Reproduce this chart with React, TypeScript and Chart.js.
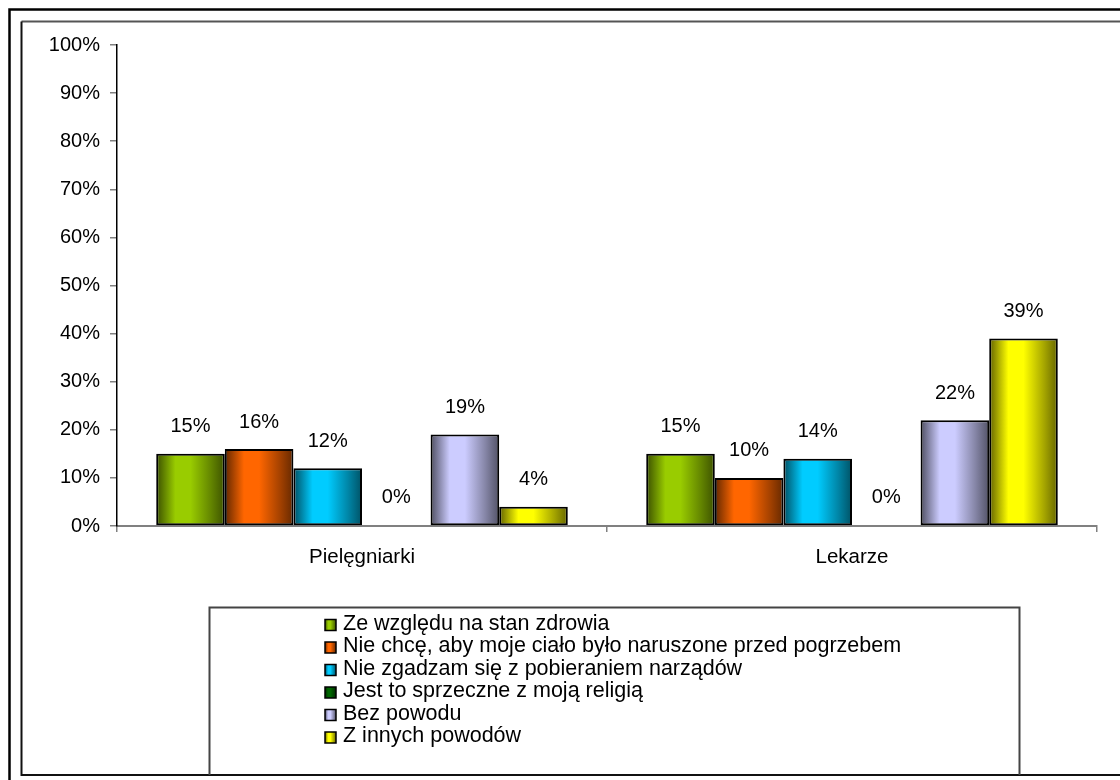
import React, { useEffect, useRef } from "react";
import { Chart, registerables } from "chart.js";

Chart.register(...registerables);

const categories = ["Pielęgniarki", "Lekarze"];
const seriesNames = [
  "Ze względu na stan zdrowia",
  "Nie chcę, aby moje ciało było naruszone przed pogrzebem",
  "Nie zgadzam się z pobieraniem narządów",
  "Jest to sprzeczne z moją religią",
  "Bez powodu",
  "Z innych powodów",
];
const seriesValues = [
  [15, 15],
  [16, 10],
  [12, 14],
  [0, 0],
  [19, 22],
  [4, 39],
];
const seriesColors = ["#99CC00", "#FF6600", "#00CCFF", "#006600", "#CCCCFF", "#FFFF00"];
const yTickValues = [0, 10, 20, 30, 40, 50, 60, 70, 80, 90, 100];

const FONT = '"Liberation Sans", Arial, sans-serif';

function shade(hex: string, f: number) {
  const n = parseInt(hex.slice(1), 16);
  const r = Math.round(((n >> 16) & 255) * f);
  const g = Math.round(((n >> 8) & 255) * f);
  const b = Math.round((n & 255) * f);
  return `rgb(${r},${g},${b})`;
}

function makeGrad(ctx: CanvasRenderingContext2D, left: number, width: number, color: string) {
  const g = ctx.createLinearGradient(left, 0, left + width, 0);
  g.addColorStop(0, shade(color, 0.38));
  g.addColorStop(0.28, color);
  g.addColorStop(0.5, color);
  g.addColorStop(0.8, shade(color, 0.65));
  g.addColorStop(1, shade(color, 0.4));
  return g;
}

const framePlugin = {
  id: "frame",
  beforeDraw(chart: any) {
    const ctx = chart.ctx;
    ctx.save();
    ctx.fillStyle = "#ffffff";
    ctx.fillRect(0, 0, chart.width, chart.height);
    ctx.strokeStyle = "#000000";
    ctx.lineWidth = 2.5;
    ctx.beginPath();
    ctx.moveTo(9.5, 2000);
    ctx.lineTo(9.5, 9.5);
    ctx.lineTo(2000, 9.5);
    ctx.stroke();
    ctx.strokeStyle = "#555555";
    ctx.lineWidth = 2;
    ctx.beginPath();
    ctx.moveTo(2000, 21.5);
    ctx.lineTo(21.5, 21.5);
    ctx.stroke();
    ctx.strokeStyle = "#111111";
    ctx.beginPath();
    ctx.moveTo(21.5, 21.5);
    ctx.lineTo(21.5, 775);
    ctx.lineTo(2000, 775);
    ctx.stroke();
    ctx.restore();
  },
};

const gradientPlugin = {
  id: "barGradient",
  beforeDatasetsDraw(chart: any) {
    const ctx = chart.ctx;
    chart.data.datasets.forEach((ds: any, i: number) => {
      const meta = chart.getDatasetMeta(i);
      meta.data.forEach((el: any) => {
        const p = el.getProps(["x", "width"], true);
        const left = p.x - p.width / 2;
        el.options = Object.assign({}, el.options, {
          backgroundColor: makeGrad(ctx, left, p.width, seriesColors[i]),
        });
      });
    });
  },
};

const labelPlugin = {
  id: "valueLabels",
  afterDatasetsDraw(chart: any) {
    const ctx = chart.ctx;
    ctx.save();
    ctx.font = `20px ${FONT}`;
    ctx.fillStyle = "#000";
    ctx.textAlign = "center";
    ctx.textBaseline = "middle";
    chart.data.datasets.forEach((ds: any, i: number) => {
      const meta = chart.getDatasetMeta(i);
      meta.data.forEach((el: any, j: number) => {
        const v = ds.data[j];
        const p = el.getProps(["x", "y"], true);
        ctx.fillText(`${v}%`, p.x, p.y - (v === 0 ? 29 : 27));
      });
    });
    ctx.restore();
  },
};

const legendPlugin = {
  id: "boxLegend",
  afterDraw(chart: any) {
    const ctx = chart.ctx;
    ctx.save();
    ctx.strokeStyle = "#444";
    ctx.lineWidth = 2;
    ctx.beginPath();
    ctx.moveTo(209.5, 775);
    ctx.lineTo(209.5, 607.5);
    ctx.lineTo(1019.5, 607.5);
    ctx.lineTo(1019.5, 775);
    ctx.stroke();
    ctx.font = `21.5px ${FONT}`;
    ctx.textBaseline = "middle";
    ctx.textAlign = "left";
    chart.data.datasets.forEach((ds: any, i: number) => {
      const cy = 624 + i * 22.5;
      const bx = 325;
      const bs = 11;
      ctx.fillStyle = makeGrad(ctx, bx, bs, seriesColors[i]);
      ctx.fillRect(bx, cy - bs / 2 + 1, bs, bs);
      ctx.strokeStyle = "#000";
      ctx.lineWidth = 1.5;
      ctx.strokeRect(bx, cy - bs / 2 + 1, bs, bs);
      ctx.fillStyle = "#000";
      ctx.fillText(ds.label, 343, cy);
    });
    ctx.restore();
  },
};

export default function App() {
  const ref = useRef<HTMLCanvasElement>(null);
  useEffect(() => {
    if (!ref.current) return;
    const chart = new Chart(ref.current, {
      type: "bar",
      data: {
        labels: categories,
        datasets: seriesNames.map((name, i) => ({
          label: name,
          data: seriesValues[i],
          backgroundColor: seriesColors[i],
          borderColor: "#000000",
          borderWidth: (c: any) => (c.raw === 0 ? 0 : 2),
          borderSkipped: false,
          categoryPercentage: 0.84,
          barPercentage: 1,
        })),
      },
      options: {
        responsive: false,
        animation: false,
        devicePixelRatio: 1,
        layout: { padding: { left: 0, top: 45, right: 23, bottom: 211 } },
        plugins: {
          legend: { display: false },
          tooltip: { enabled: false },
          title: { display: false },
        },
        scales: {
          x: {
            offset: true,
            afterFit: (s: any) => {
              s.height = 43;
            },
            grid: {
              offset: true,
              drawOnChartArea: false,
              drawTicks: true,
              tickLength: 6,
              color: "#808080",
              lineWidth: 1.5,
            },
            border: { color: "#808080", width: 2 },
            ticks: {
              color: "#000",
              font: { family: FONT, size: 20.5 },
              padding: 13,
              maxRotation: 0,
            },
          },
          y: {
            min: 0,
            max: 100,
            afterFit: (s: any) => {
              s.width = 117;
            },
            afterBuildTicks: (s: any) => {
              s.ticks = yTickValues.map((v) => ({ value: v }));
            },
            grid: {
              drawOnChartArea: false,
              drawTicks: true,
              tickLength: 7,
              color: "#808080",
              lineWidth: 1.5,
            },
            border: { color: "#000", width: 1.5 },
            ticks: {
              color: "#000",
              font: { family: FONT, size: 20 },
              padding: 10,
              callback: (v: any) => `${v}%`,
            },
          },
        },
      },
      plugins: [framePlugin, gradientPlugin, labelPlugin, legendPlugin],
    });
    return () => chart.destroy();
  }, []);
  return (
    <div style={{ position: "fixed", left: 0, top: 0, width: 1120, height: 780, background: "#fff" }}>
      <canvas ref={ref} width={1120} height={780} style={{ display: "block", width: 1120, height: 780 }} />
    </div>
  );
}
